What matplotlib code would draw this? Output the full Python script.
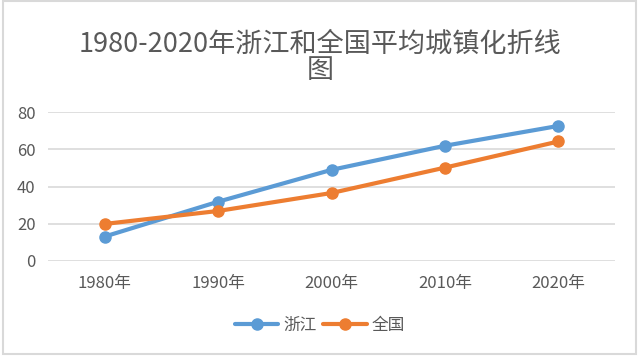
import matplotlib
matplotlib.use('Agg')
import matplotlib.pyplot as plt
from matplotlib.patches import Rectangle

plt.rcParams['font.family'] = ['Noto Sans CJK SC', 'DejaVu Sans']

years = ['1980年', '1990年', '2000年', '2010年', '2020年']
zhejiang = [13.0, 31.8, 49.0, 62.0, 72.7]
national = [19.8, 26.8, 36.5, 50.2, 64.3]
series_names = ['浙江', '全国']
title = '1980-2020年浙江和全国平均城镇化折线\n图'

blue = '#5B9BD5'
orange = '#ED7D31'
grey_text = '#595959'
grid_col = '#D9D9D9'

fig = plt.figure(figsize=(6.4, 3.58), dpi=100)
ax = fig.add_axes([0.075, 0.272, 0.886, 0.414])

x = list(range(len(years)))
ax.plot(x, zhejiang, color=blue, lw=3, marker='o', ms=8, label=series_names[0],
        solid_capstyle='round', zorder=3)
ax.plot(x, national, color=orange, lw=3, marker='o', ms=8, label=series_names[1],
        solid_capstyle='round', zorder=3)

ax.set_xlim(-0.5, len(years) - 0.5)
ax.set_ylim(0, 80)
ax.set_yticks([0, 20, 40, 60, 80])
ax.set_xticks(x)
ax.set_xticklabels(years)
ax.grid(axis='y', color=grid_col, lw=1.2)
ax.set_axisbelow(True)
for s in ax.spines.values():
    s.set_visible(False)
ax.tick_params(length=0, labelsize=12, colors=grey_text)
ax.tick_params(axis='x', pad=10)
ax.tick_params(axis='y', pad=9)

fig.text(0.5, 0.84, title, ha='center', va='center', fontsize=19.5,
         color=grey_text, linespacing=1.0)

fig.legend(loc='center', bbox_to_anchor=(0.5, 0.092), ncol=2, frameon=False,
           fontsize=12, handlelength=2.6, handletextpad=0.3, columnspacing=0.4,
           labelcolor=grey_text)

# chart border
fig.patches.append(Rectangle((0.004, 0.011), 0.990, 0.985, transform=fig.transFigure,
                             fill=False, edgecolor=grid_col, lw=1.5))

fig.savefig('out.png', dpi=100)
